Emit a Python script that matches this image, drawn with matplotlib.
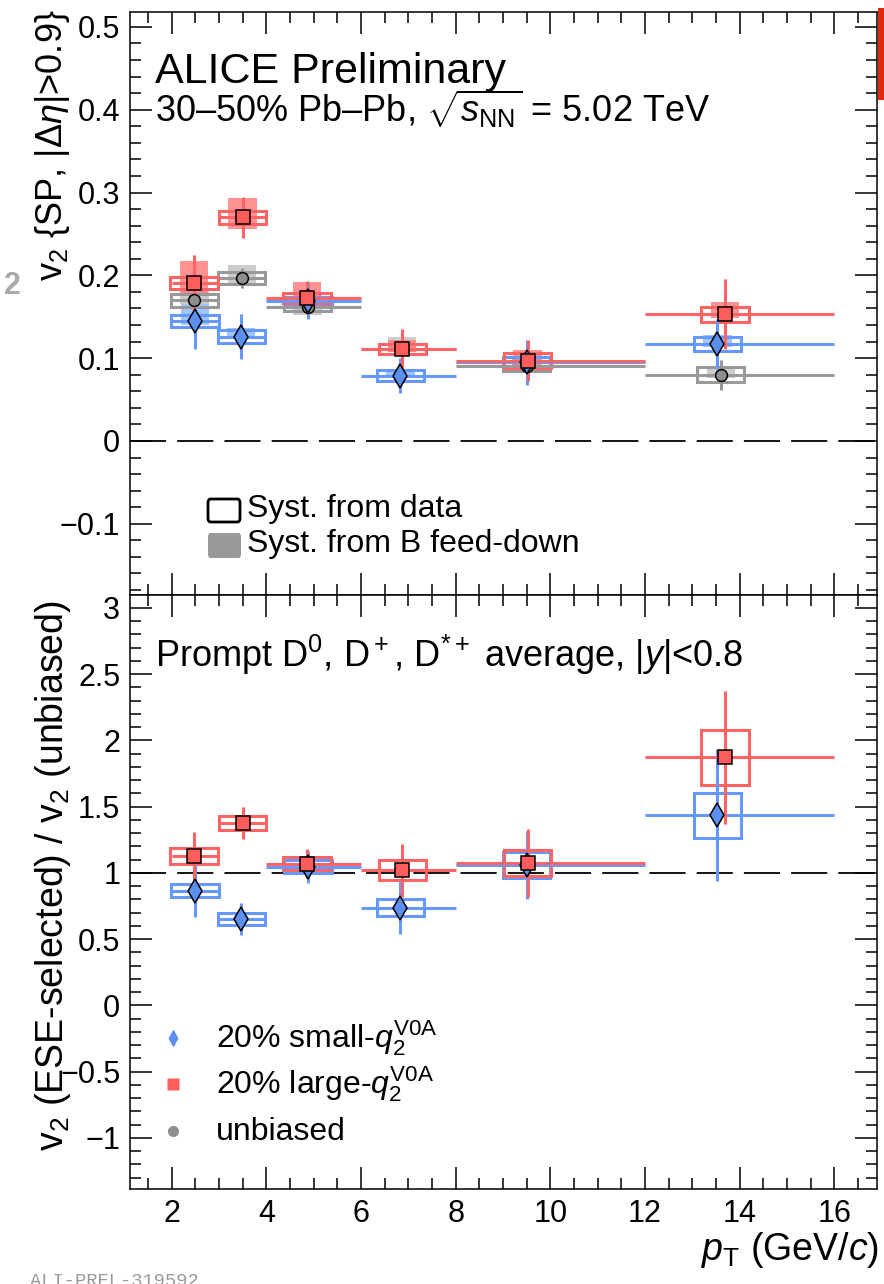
import numpy as np
import matplotlib
matplotlib.use("Agg")
import matplotlib.pyplot as plt
from matplotlib.patches import Rectangle, FancyBboxPatch
from matplotlib.ticker import MultipleLocator, FuncFormatter

plt.rcParams.update({
    "font.family": ["Liberation Sans", "DejaVu Sans"],
    "mathtext.fontset": "custom",
    "mathtext.rm": "Liberation Sans",
    "mathtext.it": "Liberation Sans:italic",
    "mathtext.bf": "Liberation Sans:bold",
    "axes.linewidth": 1.1,
    "lines.scale_dashes": False,
})

W, H = 884, 1284

# ── Data ───────────────────────────────────────────────────
BIN_EDGES = [2, 3, 4, 6, 8, 12, 16]

# top panel: v2{SP}
X_SMALL = [2.49, 3.47, 4.88, 6.83, 9.50, 13.53]
X_LARGE = [2.47, 3.50, 4.86, 6.87, 9.52, 13.69]
X_UNB = [2.48, 3.48, 4.87, 6.87, 9.50, 13.60]

V2_SMALL = [0.145, 0.126, 0.169, 0.079, 0.095, 0.117]
V2_SMALL_STAT = [0.034, 0.027, 0.022, 0.021, 0.027, 0.030]
V2_SMALL_SYST = [0.007, 0.008, 0.005, 0.0065, 0.006, 0.0085]
V2_SMALL_FD_LO = [0.140, 0.124, 0.165, 0.077, 0.092, 0.113]
V2_SMALL_FD_HI = [0.165, 0.137, 0.178, 0.085, 0.102, 0.128]

V2_LARGE = [0.191, 0.270, 0.173, 0.111, 0.097, 0.153]
V2_LARGE_STAT = [0.033, 0.025, 0.020, 0.024, 0.025, 0.042]
V2_LARGE_SYST = [0.0075, 0.0075, 0.006, 0.0065, 0.009, 0.009]
V2_LARGE_FD_LO = [0.178, 0.256, 0.165, 0.107, 0.092, 0.148]
V2_LARGE_FD_HI = [0.217, 0.294, 0.192, 0.122, 0.110, 0.168]

V2_UNB = [0.170, 0.197, 0.162, 0.111, 0.090, 0.080]
V2_UNB_STAT = [0.015, 0.012, 0.010, 0.012, 0.010, 0.018]
V2_UNB_SYST = [0.008, 0.007, 0.005, 0.006, 0.006, 0.009]
V2_UNB_FD_LO = [0.165, 0.187, 0.152, 0.108, 0.086, 0.076]
V2_UNB_FD_HI = [0.185, 0.213, 0.172, 0.125, 0.098, 0.088]

# bottom panel: ratio to unbiased
R_SMALL = [0.865, 0.654, 1.047, 0.737, 1.060, 1.436]
R_SMALL_STAT = [0.20, 0.12, 0.12, 0.20, 0.26, 0.50]
R_SMALL_SYST = [0.05, 0.045, 0.05, 0.065, 0.10, 0.17]

R_LARGE = [1.128, 1.376, 1.070, 1.020, 1.075, 1.872]
R_LARGE_STAT = [0.18, 0.12, 0.11, 0.20, 0.26, 0.50]
R_LARGE_SYST = [0.06, 0.055, 0.05, 0.075, 0.10, 0.21]

LABELS = [r"20% small-$q_2^{\rm V0A}$", r"20% large-$q_2^{\rm V0A}$", "unbiased"]

# ── Style ──────────────────────────────────────────────────
RED, RED_FACE, RED_FILL = "#ff6464", "#ff5c5c", "#ff8080"
BLUE, BLUE_FACE, BLUE_FILL = "#6699ff", "#5b8ff0", "#8fbcff"
GRAY, GRAY_FACE, GRAY_FILL = "#999999", "#8f8f8f", "#c4c4c4"
BOX_HW = 0.5
FD_HW = 0.3


def fxy(x, y):
    return x / W, 1 - y / H


def fmt(v, pos):
    v = round(v, 6) + 0.0
    return f"{v:g}".replace("-", "\u2212")


def draw(ax, x, y, stat, syst, color, face, marker, ms, z, fd=None, fill=None):
    edges = np.array(BIN_EDGES, dtype=float)
    x = np.asarray(x)
    y = np.asarray(y)
    xerr = [x - edges[:-1], edges[1:] - x]
    if fd is not None:
        for xi, lo, hi in zip(x, fd[0], fd[1]):
            ax.add_patch(Rectangle((xi - FD_HW, lo), 2 * FD_HW, hi - lo,
                                   facecolor=fill, edgecolor="none", alpha=0.85,
                                   zorder=1 + z))
    for xi, yi, s in zip(x, y, syst):
        ax.add_patch(Rectangle((xi - BOX_HW, yi - s), 2 * BOX_HW, 2 * s,
                               fill=False, edgecolor=color, lw=2.2, zorder=2 + z))
    ax.errorbar(x, y, yerr=stat, xerr=xerr, fmt="none", ecolor=color,
                elinewidth=2.2, capsize=0, zorder=3 + z)
    ax.plot(x, y, ls="none", marker=marker, ms=ms, mfc=face, mec="black",
            mew=1.1, zorder=4 + z)


def style_axes(ax, ymajor, yminor):
    ax.set_xlim(1.12, 16.9)
    ax.xaxis.set_major_locator(MultipleLocator(2))
    ax.xaxis.set_minor_locator(MultipleLocator(0.5))
    ax.yaxis.set_major_locator(MultipleLocator(ymajor))
    ax.yaxis.set_minor_locator(MultipleLocator(yminor))
    ax.yaxis.set_major_formatter(FuncFormatter(fmt))
    ax.xaxis.set_major_formatter(FuncFormatter(fmt))
    ax.tick_params(which="both", direction="in", top=True, right=True,
                   width=1.1, labelsize=22)
    ax.tick_params(which="major", length=16, pad=7)
    ax.tick_params(which="minor", length=8)


fig = plt.figure(figsize=(W / 100, H / 100), dpi=100)
left, right = 130 / W, 877 / W
ax1 = fig.add_axes([left, 1 - 595 / H, right - left, (595 - 12) / H])
ax2 = fig.add_axes([left, 1 - 1189 / H, right - left, (1189 - 595) / H])

# top panel
draw(ax1, X_UNB, V2_UNB, V2_UNB_STAT, V2_UNB_SYST, GRAY, GRAY_FACE, "o", 8.5, 0.00,
     fd=(V2_UNB_FD_LO, V2_UNB_FD_HI), fill=GRAY_FILL)
draw(ax1, X_SMALL, V2_SMALL, V2_SMALL_STAT, V2_SMALL_SYST, BLUE, BLUE_FACE, "d", 12, 0.01,
     fd=(V2_SMALL_FD_LO, V2_SMALL_FD_HI), fill=BLUE_FILL)
draw(ax1, X_LARGE, V2_LARGE, V2_LARGE_STAT, V2_LARGE_SYST, RED, RED_FACE, "s", 9.5, 0.02,
     fd=(V2_LARGE_FD_LO, V2_LARGE_FD_HI), fill=RED_FILL)
ax1.axhline(0, color="black", lw=1.3, dashes=(26, 8), zorder=0.5)
ax1.set_ylim(-0.186, 0.518)
style_axes(ax1, 0.1, 0.02)
ax1.tick_params(labelbottom=False)

# bottom panel
draw(ax2, X_SMALL, R_SMALL, R_SMALL_STAT, R_SMALL_SYST, BLUE, BLUE_FACE, "d", 12, 0.01)
draw(ax2, X_LARGE, R_LARGE, R_LARGE_STAT, R_LARGE_SYST, RED, RED_FACE, "s", 9.5, 0.02)
ax2.axhline(1, color="black", lw=1.3, dashes=(26, 8), zorder=0.5)
ax2.set_ylim(-1.385, 3.098)
style_axes(ax2, 0.5, 0.1)

# texts
fig.text(*fxy(155, 83), "ALICE Preliminary", fontsize=31, va="baseline")
fig.text(*fxy(155, 122), r"30–50% Pb–Pb, $\sqrt{s_{\rm NN}}$ = 5.02 TeV",
         fontsize=26, va="baseline")
fig.text(*fxy(155, 667), r"Prompt D$^0$, D$^+$, D$^{*+}$ average, |$y$|<0.8",
         fontsize=26, va="baseline")

# syst legend (top)
fig.patches.append(FancyBboxPatch(fxy(208, 522), 32 / W, 23 / H,
                                  boxstyle="round,pad=0,rounding_size=0.003",
                                  fill=False, ec="black", lw=2.0,
                                  transform=fig.transFigure))
fig.patches.append(FancyBboxPatch(fxy(208, 558), 33 / W, 25 / H,
                                  boxstyle="round,pad=0,rounding_size=0.003",
                                  fc="#999999", ec="none",
                                  transform=fig.transFigure))
fig.text(*fxy(247, 517), "Syst. from data", fontsize=23, va="baseline")
fig.text(*fxy(247, 552), "Syst. from B feed-down", fontsize=23, va="baseline")

# marker legend (bottom)
leg_marks = [("d", BLUE_FACE, 9), ("s", RED_FACE, 8), ("o", GRAY_FACE, 8)]
leg_y = [1038, 1084, 1131]
leg_base = [1047, 1093, 1140]
for (m, c, s), yy, yb, lab in zip(leg_marks, leg_y, leg_base, LABELS):
    fx, fy = fxy(173, yy)
    ax2.plot([fx], [fy], transform=fig.transFigure, marker=m, ms=s, mfc=c,
             mec="none", ls="none", clip_on=False)
    fig.text(*fxy(216, yb), lab, fontsize=23, va="baseline")

# axis titles
fig.text(*fxy(53, 10), r"v$_2$ {SP, |$\Delta\eta$|>0.9}", fontsize=26,
         rotation=90, ha="center", va="top")
fig.text(*fxy(53, 600), r"v$_2$ (ESE-selected) / v$_2$ (unbiased)", fontsize=27,
         rotation=90, ha="center", va="top")
fig.text(*fxy(879, 1260), r"$p_{\rm T}$ (GeV/$c$)", fontsize=27,
         ha="right", va="baseline")

# slide leftovers
fig.text(*fxy(30, 1273), "ALI-PREL-319592", fontsize=13.5, color="#999999",
         family="Liberation Mono", va="top")
fig.text(*fxy(12, 286), "2", fontsize=22, color="#aaaaaa", weight="bold",
         ha="center", va="center")
fig.patches.append(Rectangle(fxy(878, 100), 6 / W, 92 / H, fc="#e02a10",
                             ec="none", transform=fig.transFigure))

fig.savefig("out.png", dpi=100)
